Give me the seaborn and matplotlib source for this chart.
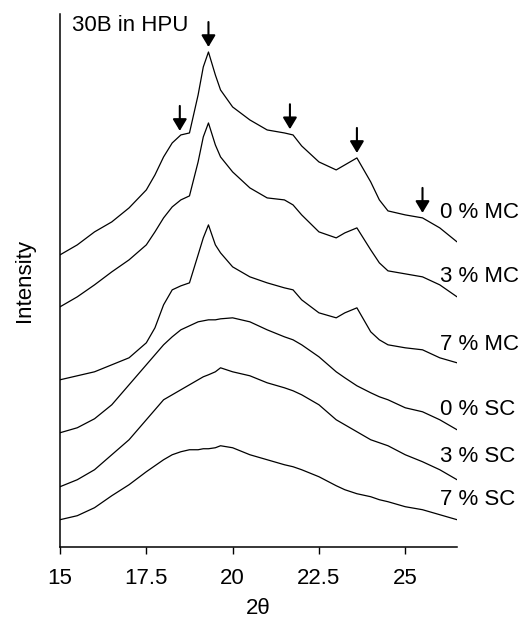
import numpy as np
import pandas as pd
import matplotlib
matplotlib.use("Agg")
import matplotlib.pyplot as plt
import seaborn as sns

two_theta = [15.0, 15.5, 16.0, 16.5, 17.0, 17.5, 17.75, 18.0, 18.25, 18.5, 18.75,
             19.0, 19.15, 19.3, 19.5, 19.65, 20.0, 20.5, 21.0, 21.5, 21.75, 22.0,
             22.5, 23.0, 23.25, 23.6, 24.0, 24.25, 24.5, 25.0, 25.5, 26.0, 26.5]

# stacked intensities (arbitrary units, offsets included)
mc_0 = [292, 302, 315, 325, 339, 357, 372, 390, 404, 412, 414, 452, 480, 495, 472, 457, 440,
        427, 417, 414, 412, 401, 385, 377, 382, 389, 365, 347, 336, 332, 329, 319, 305]
mc_3 = [240, 250, 262, 275, 287, 302, 315, 329, 340, 347, 351, 385, 410, 424, 402, 390, 375,
        359, 349, 347, 342, 332, 315, 309, 314, 319, 297, 284, 276, 273, 270, 262, 250]
mc_7 = [167, 171, 175, 182, 189, 204, 219, 242, 257, 261, 264, 292, 309, 322, 302, 294, 280,
        270, 264, 259, 257, 247, 234, 229, 234, 239, 215, 207, 202, 199, 197, 189, 184]
sc_0 = [114, 119, 128, 142, 162, 182, 192, 202, 210, 217, 221, 225, 226, 227, 227, 228, 229,
        225, 217, 210, 207, 202, 190, 175, 169, 161, 154, 150, 147, 139, 135, 127, 117]
sc_3 = [60, 67, 77, 92, 107, 127, 137, 147, 152, 157, 162, 167, 170, 172, 175, 179, 175,
        171, 164, 159, 156, 152, 142, 127, 122, 115, 107, 104, 101, 92, 85, 77, 67]
sc_7 = [27, 31, 39, 51, 62, 75, 81, 87, 92, 95, 97, 97, 98, 98, 99, 101, 99,
        92, 87, 82, 80, 77, 70, 61, 57, 53, 50, 47, 45, 40, 37, 32, 27]

samples = ["0 % MC", "3 % MC", "7 % MC", "0 % SC", "3 % SC", "7 % SC"]
label_y = [334, 270, 202, 137, 90, 47]
arrow_peaks = [18.47, 19.3, 21.66, 23.6, 25.5]

series = [mc_0, mc_3, mc_7, sc_0, sc_3, sc_7]
df = pd.concat([pd.DataFrame({"2theta": two_theta, "intensity": s, "sample": name})
                for name, s in zip(samples, series)], ignore_index=True)

sns.set_style("ticks")
plt.rcParams["font.family"] = ["Liberation Sans", "DejaVu Sans"]
plt.rcParams["text.color"] = "black"
plt.rcParams["axes.labelcolor"] = "black"

fig = plt.figure(figsize=(5.2, 6.26), dpi=100)
ax = fig.add_axes([0.1154, 0.1267, 0.7635, 0.8509])

sns.lineplot(data=df, x="2theta", y="intensity", hue="sample", palette=["black"] * 6,
             legend=False, estimator=None, sort=False, linewidth=0.9, ax=ax)

fs = 16
ax.set_xlim(15, 26.5)
ax.set_ylim(0, 533)
ax.set_xticks([15, 17.5, 20, 22.5, 25])
ax.set_xticklabels(["15", "17.5", "20", "22.5", "25"])
ax.set_yticks([])
ax.tick_params(axis="x", direction="out", length=5, width=1, pad=10, labelsize=fs,
               colors="black")
sns.despine(ax=ax)
for sp in ["left", "bottom"]:
    ax.spines[sp].set_linewidth(1.1)
    ax.spines[sp].set_color("black")

ax.set_xlabel("2θ", fontsize=fs, labelpad=7)
ax.set_ylabel("Intensity", fontsize=fs, labelpad=18)

for name, y in zip(samples, label_y):
    ax.text(26.0, y, name, fontsize=fs, ha="left", va="center", clip_on=False)

ax.text(15.35, 522, "30B in HPU", fontsize=fs, ha="left", va="center")

for x in arrow_peaks:
    tip = np.interp(x, two_theta, mc_0) + 5
    ax.annotate("", xy=(x, tip), xytext=(x, tip + 25),
                arrowprops=dict(arrowstyle="-|>,head_length=0.5,head_width=0.3",
                                color="black", lw=1.5, mutation_scale=14,
                                shrinkA=0, shrinkB=0))

fig.savefig("out.png", dpi=100)
